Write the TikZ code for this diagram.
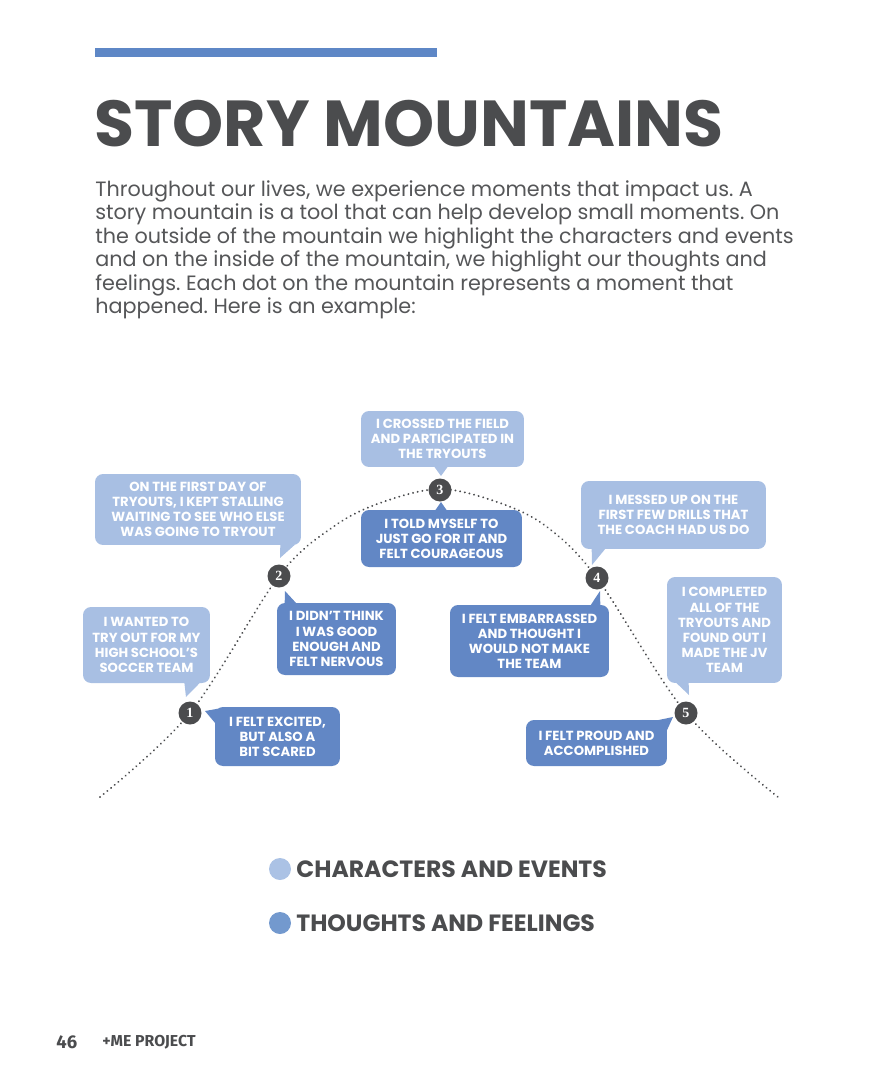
\documentclass[tikz,border=0pt]{standalone}
\usepackage{fontspec}
\setmainfont{Poppins}
\newfontfamily\numfont{Liberation Serif}
\newfontfamily\footfont{Fira Sans}
\usetikzlibrary{calc}
\frenchspacing

\definecolor{barblue}{HTML}{5E87C6}
\definecolor{evlight}{HTML}{A8BFE3}
\definecolor{feeldark}{HTML}{6287C5}
\definecolor{inkgray}{HTML}{4B4C4E}
\definecolor{bodygray}{HTML}{555658}
\definecolor{keylight}{HTML}{ABC2E5}
\definecolor{keydark}{HTML}{7399CE}

\begin{document}
\begin{tikzpicture}[x=0.02cm, y=-0.02cm,
    event/.style={fill=evlight, text=white, rounded corners=0.16cm, align=center,
      inner sep=0pt, font=\fontsize{7.5}{8.6}\selectfont\bfseries},
    feeling/.style={event, fill=feeldark},
    boxsize/.style 2 args={minimum width=#1cm, minimum height=#2cm},
    moment/.style={circle, fill=inkgray, text=white, minimum size=0.46cm, inner sep=0pt,
      font=\numfont\fontsize{8}{8}\selectfont\bfseries},
    mountain/.style={inkgray, line width=1.2pt, dash pattern=on 0.01pt off 2.7pt, line cap=round},
    keydot/.style={circle, minimum size=0.44cm, inner sep=0pt},
    keytext/.style={anchor=west, inner sep=0pt, text=inkgray, font=\fontsize{13.4}{15}\selectfont\bfseries}]
  \useasboundingbox (0,0) rectangle (876,1078);

  % Heading
  \fill[barblue] (95,48) rectangle (437,57);
  \node[anchor=base west, inner sep=0pt, text=inkgray, font=\fontsize{37}{38}\selectfont\bfseries]
    (title) at (94,147) {STORY MOUNTAINS};
  \node[anchor=north west, inner sep=0pt, align=left, text=bodygray, font=\fontsize{11.8}{13.4}\selectfont]
    (intro) at (95,180) {Throughout our lives, we experience moments that impact us. A\\
    story mountain is a tool that can help develop small moments. On\\
    the outside of the mountain we highlight the characters and events\\
    and on the inside of the mountain, we highlight our thoughts and\\
    feelings. Each dot on the mountain represents a moment that\\
    happened. Here is an example:};

  % Mountain
  \draw[mountain] plot[smooth, tension=0.55] coordinates {(100,797) (190,713) (279,576) (333,527)
    (380,503) (440,489) (500,503) (547,527) (597,578) (686,713) (778,797)};

  % Moments
  \node[moment] (m1) at (190,713) {1};
  \node[moment] (m2) at (279,576) {2};
  \node[moment] (m3) at (440,490) {3};
  \node[moment] (m4) at (597,578) {4};
  \node[moment] (m5) at (686,713) {5};

  % Characters and events
  \node[event, boxsize={2.54}{1.52}] (e1) at (146.5,645) {I WANTED TO\\TRY OUT FOR MY\\HIGH SCHOOL'S\\SOCCER TEAM};
  \node[event, boxsize={4.12}{1.42}] (e2) at (198,509.5) {ON THE FIRST DAY OF\\TRYOUTS, I KEPT STALLING\\WAITING TO SEE WHO ELSE\\WAS GOING TO TRYOUT};
  \node[event, boxsize={3.26}{1.12}] (e3) at (442.5,439) {I CROSSED THE FIELD\\AND PARTICIPATED IN\\THE TRYOUTS};
  \node[event, boxsize={3.70}{1.36}] (e4) at (673.5,515) {I MESSED UP ON THE\\FIRST FEW DRILLS THAT\\THE COACH HAD US DO};
  \node[event, boxsize={2.30}{2.12}] (e5) at (724.5,630) {I COMPLETED\\ALL OF THE\\TRYOUTS AND\\FOUND OUT I\\MADE THE JV\\TEAM};

  % Thoughts and feelings
  \node[feeling, boxsize={2.50}{1.18}] (f1) at (277.5,736.5) {I FELT EXCITED,\\BUT ALSO A\\BIT SCARED};
  \node[feeling, boxsize={2.38}{1.44}] (f2) at (336.5,639) {I DIDN'T THINK\\I WAS GOOD\\ENOUGH AND\\FELT NERVOUS};
  \node[feeling, boxsize={3.22}{1.14}] (f3) at (441.5,538.5) {I TOLD MYSELF TO\\JUST GO FOR IT AND\\FELT COURAGEOUS};
  \node[feeling, boxsize={3.18}{1.44}] (f4) at (529.5,641) {I FELT EMBARRASSED\\AND THOUGHT I\\WOULD NOT MAKE\\THE TEAM};
  \node[feeling, boxsize={2.82}{0.92}] (f5) at (596.5,743) {I FELT PROUD AND\\ACCOMPLISHED};

  % Tails
  \coordinate (te1) at (186,697);
  \coordinate (te2) at (280,558);
  \coordinate (te3) at (441,476);
  \coordinate (te4) at (592,565);
  \coordinate (te5) at (689,695);
  \coordinate (tf1) at (205,711);
  \coordinate (tf2) at (285,591);
  \coordinate (tf3) at (441,502);
  \coordinate (tf4) at (600,591);
  \coordinate (tf5) at (673,717);
  \fill[evlight] ($(e1.south east)+(-26,-1)$) -- ($(e1.south east)+(-10,-1)$) -- (te1) -- cycle;
  \fill[evlight] ($(e2.south east)+(-21,-1)$) -- ($(e2.south east)+(-6,-1)$) -- (te2) -- cycle;
  \fill[evlight] ($(e3.south)+(-8.5,-1)$) -- ($(e3.south)+(5.5,-1)$) -- (te3) -- cycle;
  \fill[evlight] ($(e4.south west)+(11,-1)$) -- ($(e4.south west)+(25,-1)$) -- (te4) -- cycle;
  \fill[evlight] ($(e5.south west)+(9,-1)$) -- ($(e5.south west)+(22,-1)$) -- (te5) -- cycle;
  \fill[feeldark] ($(f1.north west)+(9,1)$) -- ($(f1.north west)+(1,17)$) -- (tf1) -- cycle;
  \fill[feeldark] ($(f2.north west)+(8,1)$) -- ($(f2.north west)+(20,1)$) -- (tf2) -- cycle;
  \fill[feeldark] ($(f3.north)+(-6.5,1)$) -- ($(f3.north)+(5.5,1)$) -- (tf3) -- cycle;
  \fill[feeldark] ($(f4.north east)+(-19,1)$) -- ($(f4.north east)+(-9,1)$) -- (tf4) -- cycle;
  \fill[feeldark] ($(f5.north east)+(-12,1)$) -- ($(f5.north east)+(-1,12)$) -- (tf5) -- cycle;

  % Key
  \node[keydot, fill=keylight] (k1) at (280,869) {};
  \node[keytext] (k1t) at (296,869) {CHARACTERS AND EVENTS};
  \node[keydot, fill=keydark] (k2) at (280,923) {};
  \node[keytext] (k2t) at (296,923) {THOUGHTS AND FEELINGS};

  % Footer
  \node[anchor=west, inner sep=0pt, text=inkgray, font=\footfont\fontsize{10.5}{11}\selectfont\bfseries]
    (page) at (56,1042) {46};
  \node[anchor=west, inner sep=0pt, text=inkgray, font=\footfont\fontsize{9}{10}\selectfont\bfseries]
    (brand) at (102,1042) {+ME PROJECT};
\end{tikzpicture}
\end{document}
